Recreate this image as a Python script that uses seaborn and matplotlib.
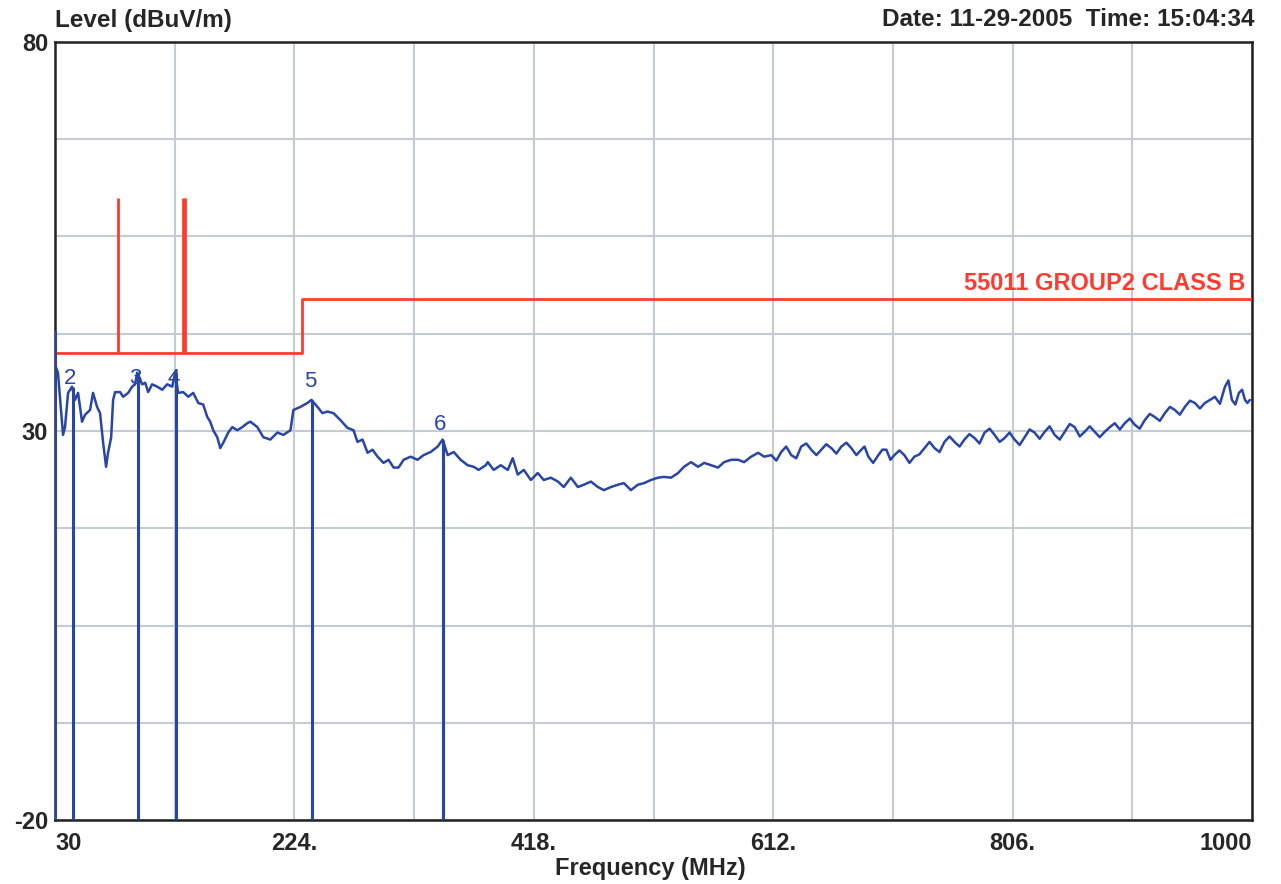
import numpy as np
import pandas as pd
import matplotlib
matplotlib.use("Agg")
import matplotlib.pyplot as plt
import seaborn as sns

# ---------------- data ----------------
# measured trace, 30-610 MHz
trace_freq_lo = [
    30.0, 32.4, 36.5, 38.1, 40.6, 43.8, 46.2, 48.7, 51.9, 54.4, 58.4, 60.8, 64.1, 66.5, 69.0,
    71.4, 73.0, 75.5, 77.1, 78.7, 82.8, 85.2, 89.3, 92.5, 94.9, 96.6, 100.6, 103.1, 105.5,
    108.7, 112.8, 116.9, 120.9, 125.0, 127.4, 129.8, 133.9, 138.0, 142.0, 146.1, 150.1,
    153.4, 155.8, 158.2, 161.5, 163.9, 166.4, 170.4, 173.7, 177.7, 181.8, 185.8, 188.3,
    194.0, 198.8, 204.5, 210.2, 215.1, 220.8, 223.2, 228.9, 234.5, 237.8, 242.7, 246.7,
    250.8, 255.6, 261.3, 267.0, 271.9, 275.1, 279.2, 283.3, 287.3, 291.4, 296.2, 300.3,
    304.4, 308.4, 312.5, 318.2, 323.8, 328.7, 334.4, 340.1, 344.1, 348.2, 353.1, 358.7,
    364.4, 369.3, 373.3, 379.0, 380.7, 385.5, 391.2, 396.9, 400.9, 405.0, 409.9, 415.6,
    421.2, 426.1, 431.8, 437.5, 442.3, 448.0, 453.7, 458.6, 464.3, 469.9, 474.8, 480.5,
    486.2, 491.0, 496.7, 502.4, 507.3, 512.9, 518.6, 523.5, 529.2, 534.9, 539.7, 545.4,
    551.1, 556.0, 561.7, 567.3, 572.2, 577.9, 583.6, 588.4, 594.1, 599.8, 604.7,
]
trace_level_lo = [
    38.5, 37.5, 29.5, 30.5, 34.9, 35.7, 34.0, 34.9, 31.2, 32.1, 32.7, 34.9, 33.1, 32.3, 28.5,
    25.4, 27.2, 29.2, 34.0, 35.0, 35.0, 34.4, 34.9, 35.7, 36.0, 37.5, 36.0, 36.2, 35.0,
    36.0, 35.7, 35.3, 36.0, 35.7, 37.5, 34.9, 35.0, 34.4, 34.9, 33.6, 33.4,
    31.8, 31.2, 30.1, 29.2, 27.8, 28.5, 29.8, 30.5, 30.1, 30.5, 31.0, 31.2,
    30.5, 29.2, 28.9, 29.8, 29.5, 30.1, 32.7, 33.1, 33.6, 34.0, 33.1, 32.3,
    32.5, 32.3, 31.4, 30.4, 30.1, 28.6, 28.9, 27.2, 27.6, 26.7, 25.9, 26.3,
    25.3, 25.3, 26.3, 26.7, 26.3, 26.9, 27.3, 28.0, 28.9, 26.9, 27.3, 26.3,
    25.6, 25.4, 25.0, 25.6, 26.0, 25.0, 25.6, 25.0, 26.5, 24.4, 25.0, 23.7,
    24.6, 23.7, 24.0, 23.5, 22.8, 24.0, 22.8, 23.1, 23.5, 22.8, 22.4, 22.8,
    23.1, 23.3, 22.4, 23.1, 23.3, 23.7, 24.0, 24.1, 24.0, 24.6, 25.4, 26.0,
    25.4, 25.9, 25.6, 25.3, 26.0, 26.3, 26.3, 26.0, 26.7, 27.2, 26.7,
]
# measured trace, 610-1000 MHz
trace_freq_hi = [
    610.4, 614.5, 618.5, 622.5, 626.6, 630.7, 634.7, 638.8, 642.8, 647.0, 651.0, 655.0,
    659.1, 663.2, 667.2, 671.3, 675.3, 679.4, 683.4, 686.0, 689.1, 693.0, 697.2, 700.5,
    703.7, 707.0, 710.2, 714.3, 718.3, 722.4, 726.4, 730.5, 734.6, 738.7, 742.7, 746.8,
    750.8, 754.9, 758.9, 763.0, 767.0, 771.0, 775.1, 779.2, 783.3, 787.4, 791.4, 795.5,
    799.5, 803.5, 807.6, 811.7, 815.7, 819.8, 823.8, 827.9, 832.0, 836.0, 840.1, 844.2,
    848.2, 852.3, 856.3, 860.4, 864.4, 868.5, 872.5, 876.6, 880.7, 884.8, 888.8, 892.9,
    896.9, 901.0, 905.0, 909.0, 913.1, 917.2, 921.2, 925.3, 929.4, 933.5, 937.5, 941.5,
    945.6, 949.7, 953.7, 957.8, 961.8, 966.0, 969.9, 974.0, 978.1, 980.9, 983.7, 986.5,
    989.4, 992.0, 994.3, 996.3, 998.3,
]
trace_level_hi = [
    26.9, 26.2, 27.3, 28.0, 26.9, 26.5, 28.0, 28.4, 27.6, 26.9, 27.6, 28.3,
    27.8, 27.1, 28.0, 28.5, 27.8, 26.9, 27.6, 28.0, 26.7, 25.9, 26.9, 27.6,
    27.6, 26.3, 26.9, 27.5, 26.9, 25.9, 26.7, 27.0, 27.8, 28.6, 27.8, 27.3,
    28.6, 29.3, 28.6, 28.0, 28.9, 29.6, 29.1, 28.4, 29.8, 30.3, 29.5, 28.6,
    29.1, 29.8, 28.9, 28.2, 29.2, 30.2, 29.8, 29.0, 29.9, 30.6, 29.5, 28.9,
    29.9, 30.9, 30.5, 29.3, 29.9, 30.6, 29.9, 29.2, 29.9, 30.5, 31.0, 30.2,
    31.0, 31.6, 30.8, 30.3, 31.4, 32.2, 31.8, 31.3, 32.3, 33.1, 32.7, 32.1,
    33.1, 33.9, 33.6, 32.9, 33.6, 34.0, 34.4, 33.5, 35.7, 36.5, 34.0, 33.4,
    34.9, 35.3, 34.0, 33.6, 34.0,
]

limit_freq = [30, 230, 230, 1000]
limit_level = [40, 40, 47, 47]
limit_label = "55011 GROUP2 CLASS B"

spike_freq = [81, 133.5, 135]
spike_top = [60, 60, 60]

marker_ids = ["1", "2", "3", "4", "5", "6"]
marker_freq = [30.0, 44.6, 97.0, 128.0, 238.6, 344.1]
marker_level = [43.0, 35.7, 37.5, 37.5, 34.0, 28.9]

x_ticks = [30, 224, 418, 612, 806, 1000]
x_tick_labels = ["30", "224.", "418.", "612.", "806.", "1000"]
y_ticks = [80, 30, -20]
y_tick_labels = ["80", "30", "-20"]

# ---------------- styling ----------------
sns.set_style("white")
FONT = ["Liberation Sans", "DejaVu Sans"]
plt.rcParams["font.family"] = FONT

BLUE = "#2946a5"
RED = "#ff3b30"
GRID = "#c3ccd2"

fig = plt.figure(figsize=(12.81, 8.84), dpi=100)
ax = fig.add_axes([55 / 1281, 1 - 820 / 884, (1252 - 55) / 1281, (820 - 42) / 884])

ax.set_xlim(30, 1000)
ax.set_ylim(-20, 80)

# grid
for gx in np.arange(30, 1000.1, 97):
    ax.axvline(gx, color=GRID, lw=1.5, zorder=0)
for gy in np.arange(-20, 80.1, 12.5):
    ax.axhline(gy, color=GRID, lw=1.5, zorder=0)

# limit line
lim_df = pd.DataFrame({"freq": limit_freq, "level": limit_level})
sns.lineplot(data=lim_df, x="freq", y="level", sort=False, estimator=None, errorbar=None,
             color=RED, lw=2, ax=ax, zorder=3)
ax.vlines(spike_freq, 40, spike_top, color=RED, lw=2, zorder=3)
ax.text(995, 48.9, limit_label, color=RED, ha="right", va="center",
        fontsize=17, fontweight="bold", family=FONT)

# trace
tr_df = pd.DataFrame({"freq": trace_freq_lo + trace_freq_hi,
                      "level": trace_level_lo + trace_level_hi})
sns.lineplot(data=tr_df, x="freq", y="level", estimator=None, errorbar=None,
             color=BLUE, lw=1.8, ax=ax, zorder=4)

# markers
ax.vlines(marker_freq, -20, marker_level, color=BLUE, lw=2.2, zorder=5)
label_offset = [0.0, 1.1, -0.7, -0.7, 2.3, 1.9]
for mid, mf, ml, off in zip(marker_ids[1:], marker_freq[1:], marker_level[1:], label_offset[1:]):
    ax.text(mf - 2, ml + off, mid, color=BLUE, ha="center", va="center", fontsize=16, zorder=6)

# axes formatting
ax.set_xticks(x_ticks)
ax.set_xticklabels(x_tick_labels, fontsize=17, fontweight="bold", family=FONT)
xt = ax.get_xticklabels()
xt[0].set_ha("left")
xt[-1].set_ha("right")
ax.set_yticks(y_ticks)
ax.set_yticklabels(y_tick_labels, fontsize=17, fontweight="bold", family=FONT)
ax.tick_params(axis="x", length=0, pad=9)
ax.tick_params(axis="y", length=0, pad=5)
ax.set_xlabel("")
ax.set_ylabel("")
for s in ax.spines.values():
    s.set_visible(True)
    s.set_color("#222222")
    s.set_linewidth(1.8)

fig.text(650 / 1281, 1 - 868 / 884, "Frequency (MHz)", fontsize=17, fontweight="bold",
         family=FONT, ha="center", va="center")
fig.text(55 / 1281, 1 - 20 / 884, "Level (dBuV/m)", fontsize=17.5, fontweight="bold",
         family=FONT, ha="left", va="center")
fig.text(1255 / 1281, 1 - 20 / 884, "Date: 11-29-2005  Time: 15:04:34", fontsize=17.5,
         fontweight="bold", family=FONT, ha="right", va="center")

fig.savefig("out.png", dpi=100, facecolor="white")
